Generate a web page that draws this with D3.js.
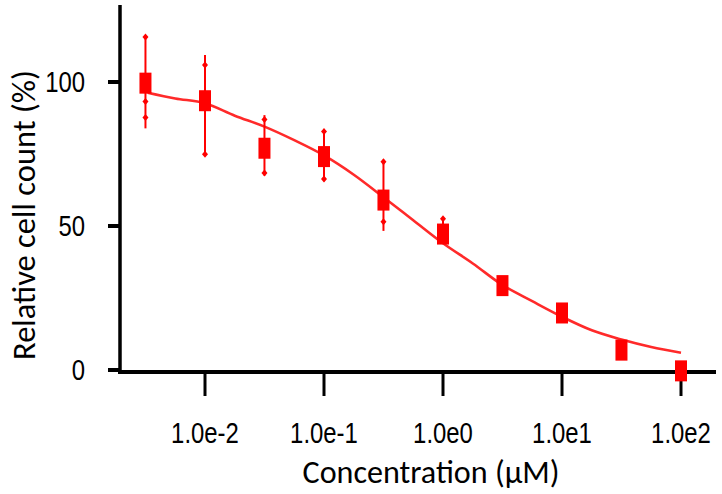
<!DOCTYPE html>
<html>
<head>
<meta charset="utf-8">
<script src="https://cdn.jsdelivr.net/npm/d3@7"></script>
<style>
  body { margin: 0; background: #fff; }
  svg { display: block; }
</style>
</head>
<body>
<script>
// measured points (concentration in uM, relative cell count %)
const conc   = [0.00316, 0.01, 0.0316, 0.1, 0.316, 1, 3.16, 10, 31.6, 100];
const counts = [99.6, 93.5, 77.0, 74.1, 59.0, 47.2, 29.3, 19.8, 6.9, -0.3];
// error bar extents (null = no bar drawn)
const errHi  = [115.6, 109.4, 88.5, 83.5, 73.0, 53.0, null, null, null, null];
const errLo  = [83.9, 74.6, 67.5, 65.5, 48.3, null, null, null, null, null];
// small diamond markers on the bars
const caps   = [[115.6, 93.2, 87.7], [105.9, 74.9], [87.0, 68.4], [82.8, 66.3], [72.3, 51.5], [52.5], [], [], [], []];

// fitted curve at quarter decades
const fitConc  = [0.0033, 0.00562, 0.01, 0.0178, 0.0316, 0.0562, 0.1, 0.178, 0.316, 0.562,
                  1, 1.78, 3.16, 5.62, 10, 17.8, 31.6, 56.2, 100];
const fitCount = [96.3, 94.3, 92.6, 88.3, 84.5, 79.8, 74.5, 67.8, 60.0, 52.0,
                  44.0, 37.0, 29.5, 23.9, 18.5, 13.8, 10.6, 8.0, 6.0];

const xTicks = [0.01, 0.1, 1, 10, 100];
const xTickLabels = ["1.0e-2", "1.0e-1", "1.0e0", "1.0e1", "1.0e2"];
const yTicks = [0, 50, 100];

const width = 722, height = 494;
const red = "#ff0000";

const svg = d3.select("body").append("svg")
  .attr("width", width)
  .attr("height", height);

const x = d3.scaleLog().domain([0.01, 100]).range([205, 681]);
const y = d3.scaleLinear().domain([0, 100]).range([370, 82]);

const tickFont = "'Liberation Sans', Arial, sans-serif";
const titleFont = "Carlito, Calibri, Lato, sans-serif";
const tickSize = 29;
const digitW = 13.3; // narrow digits, "100" is ~40px wide

// squeeze a label horizontally around its anchor point
function squeeze(node, k) {
  const t = d3.select(node);
  const cx = +t.attr("x"), cy = +t.attr("y");
  t.attr("transform", `translate(${cx},${cy}) scale(${k},1) translate(${-cx},${-cy})`);
}

// axes lines
svg.append("line")
  .attr("x1", 120).attr("x2", 120).attr("y1", 5).attr("y2", 374)
  .attr("stroke", "#000").attr("stroke-width", 3.5);
svg.append("line")
  .attr("x1", 118).attr("x2", 716).attr("y1", 372).attr("y2", 372)
  .attr("stroke", "#000").attr("stroke-width", 4);

// y ticks
svg.selectAll(".ytick")
  .data(yTicks)
  .join("line")
  .attr("x1", 108).attr("x2", 120)
  .attr("y1", d => y(d)).attr("y2", d => y(d))
  .attr("stroke", "#000").attr("stroke-width", 4);

const yLab = svg.selectAll(".ylab")
  .data(yTicks)
  .join("text")
  .attr("x", 85)
  .attr("y", d => y(d) + 10)
  .attr("text-anchor", "end")
  .attr("font-family", tickFont)
  .attr("font-size", tickSize)
  .text(d => d);

const k = digitW / yLab.node().getComputedTextLength(); // first label is "0"
yLab.each(function() { squeeze(this, k); });

// x ticks
svg.selectAll(".xtick")
  .data(xTicks)
  .join("line")
  .attr("x1", d => x(d)).attr("x2", d => x(d))
  .attr("y1", 372).attr("y2", 396)
  .attr("stroke", "#000").attr("stroke-width", 3);

svg.selectAll(".xlab")
  .data(xTicks)
  .join("text")
  .attr("x", d => x(d))
  .attr("y", 443)
  .attr("text-anchor", "middle")
  .attr("font-family", tickFont)
  .attr("font-size", tickSize)
  .text((d, i) => xTickLabels[i])
  .each(function() { squeeze(this, k); });

// titles
const xTitle = svg.append("text")
  .attr("x", 431).attr("y", 483)
  .attr("text-anchor", "middle")
  .attr("font-family", titleFont)
  .attr("font-size", 32)
  .text("Concentration (\u03bcM)");
xTitle.attr("font-size", 32 * 257 / xTitle.node().getComputedTextLength());

const yTitle = svg.append("text")
  .attr("transform", "translate(35,215) rotate(-90)")
  .attr("text-anchor", "middle")
  .attr("font-family", titleFont)
  .attr("font-size", 32)
  .text("Relative cell count (%)");
yTitle.attr("font-size", 32 * 290 / yTitle.node().getComputedTextLength());

// fitted curve
const line = d3.line()
  .x((d, i) => x(fitConc[i]))
  .y(d => y(d))
  .curve(d3.curveMonotoneX);

svg.append("path")
  .datum(fitCount)
  .attr("d", line)
  .attr("fill", "none")
  .attr("stroke", "#ff2a2a")
  .attr("stroke-width", 2.6);

// error bars
const pts = conc.map((c, i) => ({c, v: counts[i], hi: errHi[i], lo: errLo[i], caps: caps[i]}));

svg.selectAll(".err")
  .data(pts.filter(d => d.hi !== null))
  .join("line")
  .attr("x1", d => x(d.c)).attr("x2", d => x(d.c))
  .attr("y1", d => y(d.hi))
  .attr("y2", d => y(d.lo !== null ? d.lo : d.v))
  .attr("stroke", red).attr("stroke-width", 2);

const capPts = pts.flatMap(d => d.caps.map(v => ({c: d.c, v})));
svg.selectAll(".cap")
  .data(capPts)
  .join("path")
  .attr("transform", d => `translate(${x(d.c)},${y(d.v)})`)
  .attr("d", "M0,-3.5L3,0L0,3.5L-3,0Z")
  .attr("fill", red);

// markers
svg.selectAll(".pt")
  .data(pts)
  .join("rect")
  .attr("x", d => x(d.c) - 6)
  .attr("y", d => y(d.v) - 10.5)
  .attr("width", 12)
  .attr("height", 21)
  .attr("fill", red);
</script>
</body>
</html>
